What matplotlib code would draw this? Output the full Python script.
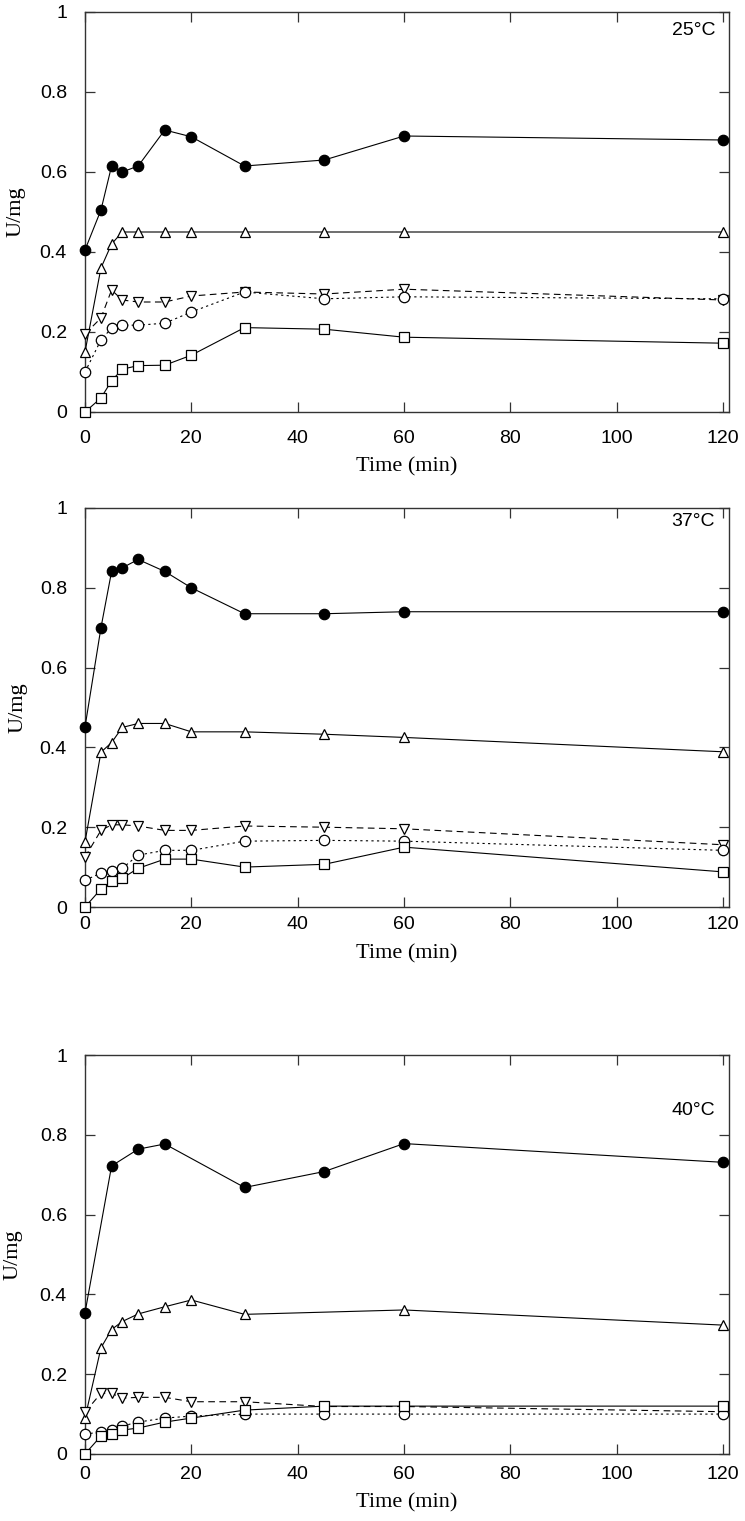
import matplotlib
matplotlib.use("Agg")
import matplotlib.pyplot as plt

# sampling times (min)
t_all = [0, 3, 5, 7, 10, 15, 20, 30, 45, 60, 120]
t_40_filled = [0, 5, 10, 15, 30, 45, 60, 120]
t_40_up = [0, 3, 5, 7, 10, 15, 20, 30, 60, 120]

# 25 C
c25_filled = [0.405, 0.505, 0.615, 0.60, 0.615, 0.705, 0.688, 0.615, 0.63, 0.69, 0.68]
c25_up = [0.15, 0.36, 0.42, 0.45, 0.45, 0.45, 0.45, 0.45, 0.45, 0.45, 0.45]
c25_down = [0.195, 0.235, 0.305, 0.28, 0.275, 0.275, 0.29, 0.30, 0.295, 0.307, 0.28]
c25_circle = [0.10, 0.18, 0.21, 0.217, 0.217, 0.222, 0.25, 0.30, 0.283, 0.288, 0.283]
c25_square = [0.0, 0.035, 0.078, 0.107, 0.116, 0.117, 0.142, 0.211, 0.207, 0.187, 0.172]

# 37 C
c37_filled = [0.451, 0.70, 0.841, 0.85, 0.871, 0.841, 0.80, 0.735, 0.735, 0.74, 0.74]
c37_up = [0.163, 0.388, 0.412, 0.45, 0.46, 0.46, 0.439, 0.439, 0.433, 0.425, 0.389]
c37_down = [0.125, 0.192, 0.206, 0.206, 0.203, 0.192, 0.192, 0.203, 0.200, 0.196, 0.156]
c37_circle = [0.067, 0.085, 0.09, 0.097, 0.13, 0.142, 0.142, 0.165, 0.167, 0.165, 0.142]
c37_square = [0.0, 0.045, 0.065, 0.072, 0.097, 0.12, 0.12, 0.10, 0.107, 0.15, 0.088]

# 40 C
c40_filled = [0.354, 0.722, 0.764, 0.777, 0.668, 0.708, 0.778, 0.731]
c40_up = [0.09, 0.266, 0.312, 0.332, 0.351, 0.369, 0.386, 0.35, 0.361, 0.323]
c40_down = [0.105, 0.152, 0.152, 0.14, 0.142, 0.142, 0.131, 0.131, 0.119, 0.119, 0.106]
c40_circle = [0.05, 0.055, 0.06, 0.07, 0.08, 0.09, 0.095, 0.10, 0.10, 0.10, 0.10]
c40_square = [0.0, 0.045, 0.05, 0.06, 0.065, 0.08, 0.09, 0.11, 0.12, 0.12, 0.12]

W, H = 745, 1521
# axes boxes in pixels: left, top, right, bottom
boxes = [(85, 12, 729, 412), (85, 508, 729, 907), (85, 1055, 729, 1454)]
titles = ["25\u00b0C", "37\u00b0C", "40\u00b0C"]
title_y = [0.953, 0.965, 0.86]
xtick_pad = [13, 6.5, 8.5]
xlabel_y = [-0.113, -0.093, -0.098]
ylabel_x = [-0.092, -0.089, -0.097]

panels = [
    [(t_all, c25_filled), (t_all, c25_up), (t_all, c25_down), (t_all, c25_circle), (t_all, c25_square)],
    [(t_all, c37_filled), (t_all, c37_up), (t_all, c37_down), (t_all, c37_circle), (t_all, c37_square)],
    [(t_40_filled, c40_filled), (t_40_up, c40_up), (t_all, c40_down), (t_all, c40_circle), (t_all, c40_square)],
]
styles = [
    dict(marker="o", ls="-", mfc="black", ms=7.5),
    dict(marker="^", ls="-", mfc="white", ms=7.5),
    dict(marker="v", ls=(0, (6, 4)), mfc="white", ms=7.5),
    dict(marker="o", ls=(0, (2, 3)), mfc="white", ms=7.5),
    dict(marker="s", ls="-", mfc="white", ms=7),
]

sans = "Liberation Sans"
serif = "Liberation Serif"

fig = plt.figure(figsize=(W / 100, H / 100), dpi=100)
for i, (l, t, r, b) in enumerate(boxes):
    ax = fig.add_axes([l / W, 1 - b / H, (r - l) / W, (b - t) / H])
    for (x, y), st in zip(panels[i], styles):
        ax.plot(x, y, color="black", lw=0.8, mec="black", mew=0.9, clip_on=False, zorder=3, **st)
    ax.set_xlim(0, 121.1)
    ax.set_ylim(0, 1)
    ax.set_xticks([0, 20, 40, 60, 80, 100, 120])
    ax.set_yticks([0, 0.2, 0.4, 0.6, 0.8, 1])
    ax.set_yticklabels(["0", "0.2", "0.4", "0.6", "0.8", "1"])
    ax.tick_params(direction="in", length=7, width=0.9, color="#333333", top=True, right=True,
                   labelsize=14)
    ax.tick_params(axis="x", pad=xtick_pad[i])
    ax.tick_params(axis="y", pad=13)
    for lab in ax.get_xticklabels() + ax.get_yticklabels():
        lab.set_family(sans)
    for sp in ax.spines.values():
        sp.set_linewidth(1.0)
        sp.set_color("#333333")
    ax.set_xlabel("Time (min)", family=serif, fontsize=16)
    ax.xaxis.set_label_coords(0.5, xlabel_y[i])
    ax.set_ylabel("U/mg", family=serif, fontsize=16)
    ax.yaxis.set_label_coords(ylabel_x[i], 0.5)
    ax.text(118.5, title_y[i], titles[i], family=sans, fontsize=14, ha="right", va="center")

fig.savefig("out.png", dpi=100)
